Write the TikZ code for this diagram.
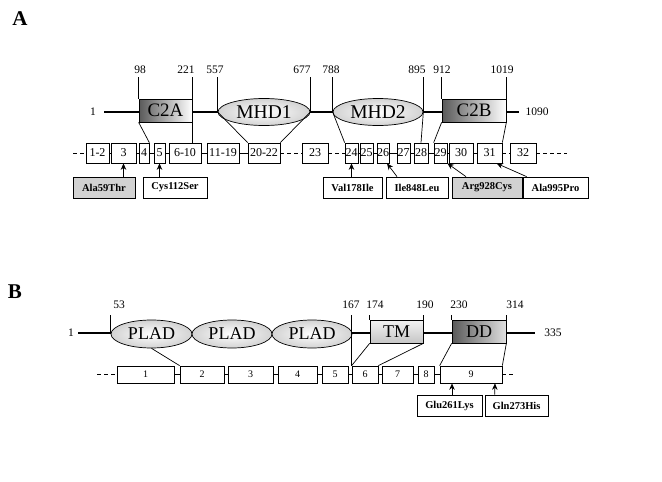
\documentclass[tikz,border=0pt]{standalone}
\usepackage{fontspec}
\setmainfont{Liberation Serif}
\usetikzlibrary{arrows.meta,shapes.geometric}
\tikzset{%
    >={Stealth[length=6.5pt,width=5.5pt]},
    bb/.style={line width=2.6pt},
    dsh/.style={dash pattern=on 4pt off 3pt},
    num/.style={inner sep=1.5pt,font=\fontsize{11.5}{12}\selectfont},
    exon/.style={draw,fill=white,inner sep=0pt,minimum height=20,font=\fontsize{12}{12}\selectfont},
    exonb/.style={exon,minimum height=17,font=\fontsize{10}{11}\selectfont},
    mut/.style={draw,fill=white,inner sep=0pt,minimum height=21,font=\fontsize{10.5}{12}\selectfont\bfseries},
    c2/.style={draw,inner sep=0pt,minimum height=23,left color=black!65,right color=white,font=\fontsize{19}{20}\selectfont},
    mhd/.style={ellipse,draw,inner sep=0pt,minimum height=27,inner color=white,outer color=gray!35,font=\fontsize{19.5}{20}\selectfont},
    plad/.style={mhd,minimum height=28,font=\fontsize{18}{20}\selectfont},
    tm/.style={draw,inner sep=0pt,minimum height=23,top color=gray!10,bottom color=gray!45,font=\fontsize{18}{20}\selectfont},
    dd/.style={tm,left color=black!65,right color=gray!25},
    panel/.style={font=\fontsize{21}{22}\selectfont\bfseries}
}

\begin{document}
\begin{tikzpicture}[x=1pt,y=-1pt,line width=0.7pt]
    \useasboundingbox (0,0) rectangle (662,482);
    \node[panel] (pa) at (20,19) {A};
    \node[panel] (pb) at (15,292) {B};
    %%%%% panel A
    \coordinate (a-start) at (104,112);
    \coordinate (a-end) at (519,112);
    \coordinate (a-top) at (0,77);
    \coordinate (a-l) at (73,153);
    \coordinate (a-r) at (567,153);
    \draw[bb] (a-start) -- (a-end);
    \node[num] (a-n1) at (93,112) {1};
    \node[num] (a-n1090) at (537,112) {1090};
    \node[c2,minimum width=53] (c2a) at (165.5,110.5) {C2A};
    \node[mhd,minimum width=92] (mhd1) at (264,112) {MHD1};
    \node[mhd,minimum width=90] (mhd2) at (378,112) {MHD2};
    \node[c2,minimum width=64] (c2b) at (474,110.5) {C2B};
    \foreach \lx/\t/\n in {140/98/t98,186/221/t221,215/557/t557,302/677/t677,
        331/788/t788,417/895/t895,442/912/t912,502/1019/t1019}
        \node[num] (\n) at (\lx,70) {\t};
    \draw (c2a.north west) -- (c2a.north west |- a-top);
    \draw (c2a.north east) -- (c2a.north east |- a-top);
    \draw (mhd1.west) -- (mhd1.west |- a-top);
    \draw (mhd1.east) -- (mhd1.east |- a-top);
    \draw (mhd2.west) -- (mhd2.west |- a-top);
    \draw (mhd2.east) -- (mhd2.east |- a-top);
    \draw (c2b.north west) -- (c2b.north west |- a-top);
    \draw (c2b.north east) -- (c2b.north east |- a-top);
    %%%%% exons A
    \foreach \l/\r/\t/\n in {86/109/1-2/a12,111/136/3/a3,139/149/4/a4,154/165/5/a5,
        169/201/6-10/a610,207/239/11-19/a1119,248/280/20-22/a2022,302/328/23/a23,
        345/358/24/a24,360/373/25/a25,377/389/26/a26,397/410/27/a27,414/428/28/a28,
        434/447/29/a29,449/473/30/a30,477/502/31/a31,510/536/32/a32}{
        \pgfmathsetmacro\w{\r-\l}
        \node[exon,minimum width=\w] (\n) at ({(\l+\r)/2},153) {\t};
    }
    \foreach \p/\q in {a12/a3,a3/a4,a4/a5,a5/a610,a610/a1119,a1119/a2022,a24/a25,
        a25/a26,a26/a27,a27/a28,a28/a29,a29/a30,a30/a31}
        \draw (\p.east) -- (\q.west);
    \draw[dsh] (a-l) -- (a12.west);
    \draw[dsh] (a2022.east) -- (a23.west);
    \draw[dsh] (a23.east) -- (a24.west);
    \draw[dsh] (a31.east) -- (a32.west);
    \draw[dsh] (a32.east) -- (a-r);
    \draw (c2a.south west) -- (a4.north east);
    \draw (c2a.south east) -- (c2a.south east |- a610.north);
    \draw (mhd1.west) -- (a2022.north west);
    \draw (mhd1.east) -- (a2022.north east);
    \draw (mhd2.west) -- (a24.north west);
    \draw (mhd2.east) -- (a28.north);
    \draw (c2b.south west) -- (a29.north west);
    \draw (c2b.south east) -- (a31.north east);
    %%%%% mutations A
    \node[mut,fill=gray!35,minimum width=62] (ala59) at (104,187.5) {Ala59Thr};
    \node[mut,minimum width=64] (cys112) at (175,187.5) {Cys112Ser};
    \node[mut,minimum width=59] (val178) at (352.5,187.5) {Val178Ile};
    \node[mut,minimum width=62] (ile848) at (417,187.5) {Ile848Leu};
    \node[mut,fill=gray!35,minimum width=70] (arg928) at (487,187.5) {Arg928Cys};
    \node[mut,minimum width=65] (ala995) at (555.5,187.5) {Ala995Pro};
    \draw[->] (a3.south |- ala59.north) -- (a3.south);
    \draw[->] (a5.south |- cys112.north) -- (a5.south);
    \draw[->] (a24.south |- val178.north) -- (a24.south);
    \draw[->] ([xshift=-20pt]ile848.north) -- ([xshift=4pt]a26.south);
    \draw[->] ([xshift=-21pt]arg928.north) -- (a29.south east);
    \draw[->] ([xshift=4pt]ala995.north west) -- ([xshift=7pt]a31.south);
    %%%%% panel B
    \coordinate (b-start) at (78,333);
    \coordinate (b-end) at (535,333);
    \coordinate (b-top) at (0,315);
    \coordinate (b-l) at (97,374.5);
    \coordinate (b-r) at (513,374.5);
    \draw[bb] (b-start) -- (b-end);
    \node[num] (b-n1) at (71,333) {1};
    \node[num] (b-n335) at (553,333) {335};
    \node[plad,minimum width=81] (plad1) at (151.5,334) {PLAD};
    \node[plad,minimum width=80] (plad2) at (232,334) {PLAD};
    \node[plad,minimum width=80] (plad3) at (312,334) {PLAD};
    \node[tm,minimum width=53] (tm) at (396.5,331.5) {TM};
    \node[dd,minimum width=54] (dd) at (479,331.5) {DD};
    \foreach \lx/\t/\n in {119/53/t53,351/167/t167,375/174/t174,425/190/t190,
        459/230/t230,515/314/t314}
        \node[num] (\n) at (\lx,305) {\t};
    %%%%% exons B
    \foreach \l/\r/\t/\n in {117/174/1/b1,180/224/2/b2,228/273/3/b3,278/317/4/b4,
        322/348/5/b5,352/378/6/b6,382/413/7/b7,418/434/8/b8,440/502/9/b9}{
        \pgfmathsetmacro\w{\r-\l}
        \node[exonb,minimum width=\w] (\n) at ({(\l+\r)/2},374.5) {\t};
    }
    \foreach \p/\q in {b1/b2,b2/b3,b3/b4,b4/b5,b5/b6,b6/b7,b7/b8,b8/b9}
        \draw (\p.east) -- (\q.west);
    \draw[dsh] (b-l) -- (b1.west);
    \draw[dsh] (b9.east) -- (b-r);
    \draw (plad1.west) -- (plad1.west |- b-top);
    \draw (b6.north west |- b-top) -- (b6.north west);
    \draw (tm.north west) -- (tm.north west |- b-top);
    \draw (tm.north east) -- (tm.north east |- b-top);
    \draw (dd.north west) -- (dd.north west |- b-top);
    \draw (dd.north east) -- (dd.north east |- b-top);
    \draw (plad1.south) -- (b2.north west);
    \draw (tm.south west) -- (b6.north west);
    \draw (tm.south east) -- (b6.north east);
    \draw (dd.south west) -- (b9.north west);
    \draw (dd.south east) -- (b9.north east);
    %%%%% mutations B
    \node[mut,minimum width=65] (glu261) at (449.5,405.5) {Glu261Lys};
    \node[mut,minimum width=63] (gln273) at (516.5,405.5) {Gln273His};
    \draw[->] ([xshift=2.5pt]glu261.north) -- ([xshift=-19pt]b9.south);
    \draw[->] ([xshift=10pt]gln273.north west) -- ([xshift=24pt]b9.south);
\end{tikzpicture}
\end{document}
